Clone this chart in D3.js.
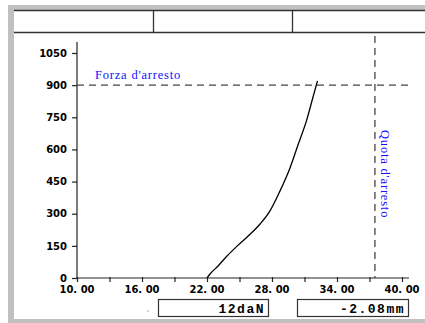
<!DOCTYPE html>
<html><head><meta charset="utf-8">
<script src="https://cdn.jsdelivr.net/npm/d3@7/dist/d3.min.js"></script>
<style>html,body{margin:0;padding:0;background:#fff;overflow:hidden}</style>
</head><body>
<script>
// Data
const curveX = [22.0, 22.3, 23.0, 23.8, 24.8, 26.0, 26.9, 27.8, 28.7, 29.67, 30.43, 31.2, 31.8, 32.2];
const curveY = [0, 20, 55, 100, 150, 205, 252, 312, 402, 515, 625, 737, 847, 920];
const yTicks = [0, 150, 300, 450, 600, 750, 900, 1050];
const xMinorTicks = [10, 13, 16, 19, 22, 25, 28, 31, 34, 37, 40];
const xLabelTicks = [10, 16, 22, 28, 34, 40];
const forzaArresto = 900;
const quotaArresto = 37.5;
const labels = {forza: "Forza d'arresto", quota: "Quota d'arresto", force: "12daN", pos: "-2.08mm"};

const W = 425, H = 323;
const svg = d3.select("body").append("svg").attr("width", W).attr("height", H);

// frame
svg.append("rect").attr("x", 8).attr("y", 5).attr("width", W - 8).attr("height", H - 5).attr("fill", "#c0c0c0");
svg.append("rect").attr("x", 14).attr("y", 10).attr("width", W - 14).attr("height", 309).attr("fill", "#fff");
// header
const hdr = svg.append("g").attr("stroke", "#333").attr("stroke-width", 1.3);
hdr.append("line").attr("x1", 14).attr("x2", W).attr("y1", 10.5).attr("y2", 10.5);
hdr.append("line").attr("x1", 14).attr("x2", W).attr("y1", 32.5).attr("y2", 32.5);
hdr.append("line").attr("x1", 153.5).attr("x2", 153.5).attr("y1", 10.5).attr("y2", 32.5);
hdr.append("line").attr("x1", 292.5).attr("x2", 292.5).attr("y1", 10.5).attr("y2", 32.5);

const x = d3.scaleLinear().domain([10, 40]).range([77, 402]);
const y = d3.scaleLinear().domain([0, 1050]).range([278, 53]);

const ax = "#222";
// y axis
svg.append("line").attr("x1", 77).attr("x2", 77).attr("y1", 42).attr("y2", y(0)).attr("stroke", ax).attr("stroke-width", 1.2);
const yAxis = d3.axisLeft(y).tickValues(yTicks).tickSize(5).tickPadding(5).tickFormat(d3.format("d"));
const gy = svg.append("g").attr("transform", "translate(77,0)").call(yAxis);
gy.select(".domain").remove();
gy.selectAll("line").attr("stroke", ax).attr("stroke-width", 1.2);
gy.selectAll("text").attr("font-family", "DejaVu Sans").attr("font-weight", "bold").attr("font-size", 10).attr("fill", "#000");

// x axis
svg.append("line").attr("x1", 77).attr("x2", 409).attr("y1", y(0)).attr("y2", y(0)).attr("stroke", ax).attr("stroke-width", 1.2);
const xAxis = d3.axisBottom(x).tickValues(xMinorTicks).tickSize(4).tickFormat(() => "");
const gx = svg.append("g").attr("transform", `translate(0,${y(0)})`).call(xAxis);
gx.select(".domain").remove();
gx.selectAll("line").attr("stroke", ax).attr("stroke-width", 1.2).attr("y1", -1);
const fmtX = d => d3.format(".2f")(d).replace(".", ". ");
svg.append("g").selectAll("text").data(xLabelTicks).join("text")
  .attr("x", d => x(d)).attr("y", 293).attr("text-anchor", "middle")
  .attr("font-family", "DejaVu Sans").attr("font-weight", "bold").attr("font-size", 10)
  .text(fmtX);

// reference lines
svg.append("line").attr("x1", 77).attr("x2", 410).attr("y1", y(forzaArresto)).attr("y2", y(forzaArresto))
  .attr("stroke", "#444").attr("stroke-width", 1.3).attr("stroke-dasharray", "7,5");
svg.append("line").attr("x1", x(quotaArresto)).attr("x2", x(quotaArresto)).attr("y1", 36).attr("y2", y(0))
  .attr("stroke", "#444").attr("stroke-width", 1.3).attr("stroke-dasharray", "7,5");

svg.append("text").attr("x", 95).attr("y", 78.5).attr("fill", "#1010ff")
  .attr("font-family", "Liberation Serif").attr("font-size", 12.5).attr("letter-spacing", 0.8).text(labels.forza);
svg.append("text").attr("transform", `translate(${x(quotaArresto) + 6},130) rotate(90)`).attr("fill", "#1010ff")
  .attr("font-family", "Liberation Serif").attr("font-size", 12.5).attr("letter-spacing", 0.8).text(labels.quota);

// curve
const pts = curveX.map((v, i) => [v, curveY[i]]);
svg.append("path").datum(pts)
  .attr("d", d3.line().x(d => x(d[0])).y(d => y(d[1])).curve(d3.curveMonotoneX))
  .attr("fill", "none").attr("stroke", "#000").attr("stroke-width", 1.3);

// bottom boxes
const boxes = [{x: 158, w: 110, t: labels.force}, {x: 297, w: 111, t: labels.pos}];
boxes.forEach(b => {
  svg.append("rect").attr("x", b.x + 0.5).attr("y", 299.5).attr("width", b.w).attr("height", 17)
    .attr("fill", "#fff").attr("stroke", "#333").attr("stroke-width", 1.2);
  svg.append("text").attr("x", b.x + b.w - 3).attr("y", 312.5).attr("text-anchor", "end")
    .attr("font-family", "Liberation Mono").attr("font-weight", "bold").attr("font-size", 13)
    .attr("letter-spacing", 1.5).text(b.t);
});
svg.append("rect").attr("x", 147.5).attr("y", 310.5).attr("width", 1).attr("height", 1).attr("fill", "#555");
</script>
</body></html>
